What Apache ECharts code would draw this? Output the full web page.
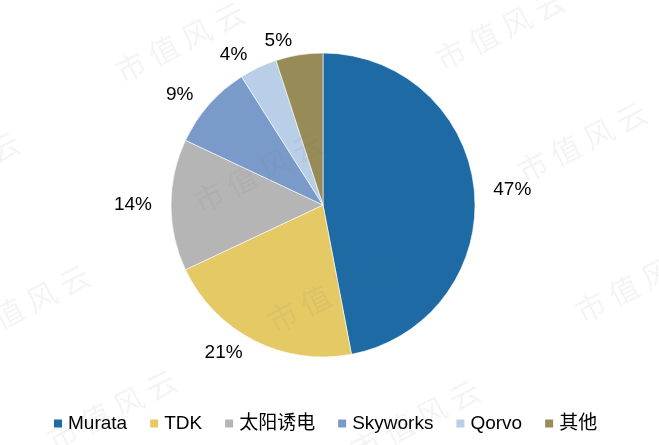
<!DOCTYPE html>
<html>
<head>
<meta charset="utf-8">
<script src="https://cdn.jsdelivr.net/npm/echarts@6/dist/echarts.min.js"></script>
<style>
html,body{margin:0;padding:0;background:#fff;}
#chart{width:659px;height:445px;}
</style>
</head>
<body>
<div id="chart"></div>
<script>
var categories = ['Murata', 'TDK', '太阳诱电', 'Skyworks', 'Qorvo', '其他'];
var values = [47, 21, 14, 9, 4, 5];
var colors = ['#1D6AA5', '#E4C965', '#B5B5B5', '#7A9BC9', '#B9CFE8', '#978C57'];

var watermarkSpots = [
  [180, 42], [500, 30], [582, 142], [258, 172], [332, 292], [640, 282],
  [25, 305], [112, 410], [-45, 172], [415, 420]
];

var chart = echarts.init(document.getElementById('chart'));
var fontFamily = '"Liberation Sans", Arial, "Noto Sans CJK SC", sans-serif';

var graphics = watermarkSpots.map(function (p) {
  return {
    type: 'text',
    x: p[0], y: p[1],
    rotation: 27 * Math.PI / 180,
    z: 100,
    silent: true,
    style: {
      text: '市 值 风 云',
      font: '30px "Noto Sans CJK SC"',
      fill: 'rgba(120,120,120,0.08)',
      align: 'center',
      verticalAlign: 'middle'
    }
  };
});

chart.setOption({
  backgroundColor: '#fff',
  animation: false,
  color: colors,
  graphic: graphics,
  legend: {
    data: categories,
    left: 47,
    top: 409,
    icon: 'rect',
    itemWidth: 10,
    itemHeight: 10,
    itemGap: 21,
    textStyle: { fontSize: 19, color: '#000', fontFamily: fontFamily }
  },
  series: [{
    type: 'pie',
    center: [323, 205],
    radius: 152,
    startAngle: 90,
    clockwise: true,
    avoidLabelOverlap: false,
    itemStyle: { borderColor: '#fff', borderWidth: 0.6 },
    label: {
      show: true,
      position: 'outside',
      formatter: function (p) { return p.value + '%'; },
      fontSize: 19,
      color: '#000',
      fontFamily: fontFamily,
      distanceToLabelLine: 5
    },
    labelLine: {
      show: true,
      length: 14,
      length2: 0,
      lineStyle: { opacity: 0 }
    },
    emphasis: { disabled: true },
    data: categories.map(function (c, i) { return { name: c, value: values[i] }; })
  }]
});
</script>
</body>
</html>
